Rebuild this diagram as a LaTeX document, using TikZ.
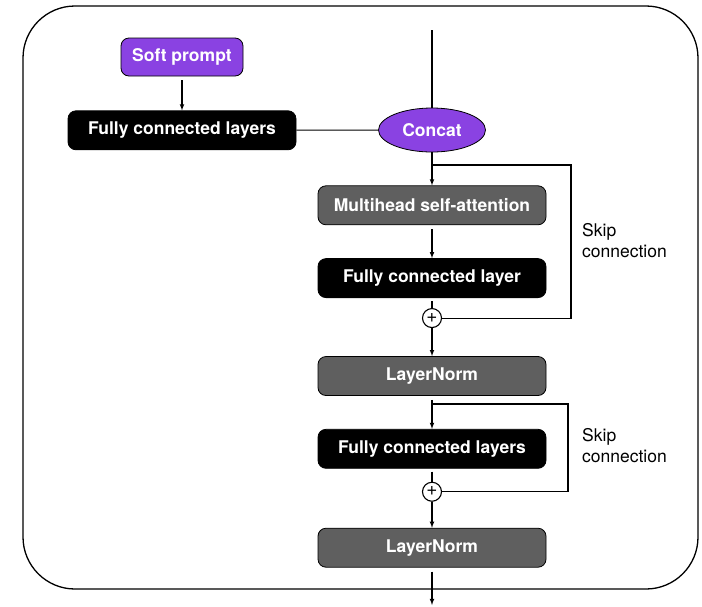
\documentclass[tikz,border=0pt]{standalone}
\usepackage{fontspec}
\setmainfont{TeX Gyre Heros}
\usetikzlibrary{positioning, shapes.geometric}
\definecolor{promptpurple}{RGB}{138,66,226}
\definecolor{blockgray}{RGB}{95,95,95}

\begin{document}
\begin{tikzpicture}
	% style
	[x=1pt, y=-1pt, >=latex,
	box/.style={rectangle, rounded corners=8pt, draw=black, line width=0.8pt, text=white, inner sep=0pt, font=\fontsize{17.5}{20}\selectfont\bfseries},
	prompt/.style={box, fill=promptpurple, minimum width=122pt, minimum height=38pt},
	dense/.style={box, fill=black, minimum width=228pt, minimum height=39pt},
	attn/.style={box, fill=blockgray, minimum width=228pt, minimum height=39pt},
	concat/.style={ellipse, draw=black, line width=0.8pt, fill=promptpurple, text=white, inner sep=0pt, minimum width=107pt, minimum height=44pt, font=\fontsize{17.5}{20}\selectfont\bfseries},
	plus/.style={circle, draw=black, line width=1.1pt, fill=white, inner sep=0pt, minimum size=19pt, font=\fontsize{19}{19}\selectfont},
	note/.style={rectangle, inner sep=0pt, align=left, anchor=west, font=\fontsize{17.5}{21}\selectfont}]

	\useasboundingbox (0,0) rectangle (702,606);
	\draw[rounded corners=52pt, line width=1.3pt] (23,6) rectangle (698,589);

	% prompt branch
	\node [prompt] (soft) at (182,57) {Soft prompt};
	\node [dense, node distance=34pt] (fc_in) [below=of soft] {Fully connected layers};

	% encoder column
	\coordinate (input) at (432,30);
	\node [concat] (concat) at (432,130) {Concat};
	\node [attn, node distance=33pt] (mha) [below=of concat] {Multihead self-attention};
	\node [dense, node distance=33pt] (fc_1) [below=of mha] {Fully connected layer};
	\node [plus, node distance=10pt] (plus_1) [below=of fc_1] {\raisebox{1pt}{+}};
	\node [attn, node distance=28pt] (norm_1) [below=of plus_1] {LayerNorm};
	\node [dense, node distance=33pt] (fc_2) [below=of norm_1] {Fully connected layers};
	\node [plus, node distance=13pt] (plus_2) [below=of fc_2] {\raisebox{1pt}{+}};
	\node [attn, node distance=26pt] (norm_2) [below=of plus_2] {LayerNorm};
	\coordinate (output) at (432,605);

	% skip connections
	\coordinate (split_1) at (432,165);
	\coordinate (skip_1) at (571,165);
	\coordinate (split_2) at (432,404);
	\coordinate (skip_2) at (568,404);
	\node [note] (label_1) at (582,241) {Skip\\connection};
	\node [note] (label_2) at (582,446) {Skip\\connection};

	\path[line width=1.1pt] (input)	edge (concat)
	                (fc_in)		edge (concat)
	                (fc_1)		edge [shorten <=3pt] (plus_1)
	                (fc_2)		edge [shorten <=3pt] (plus_2);
	\path[->,line width=1.1pt] (soft)	edge [shorten <=4pt] (fc_in)
	                (concat)	edge (mha)
	                (mha)		edge [shorten <=4pt] (fc_1)
	                (plus_1)	edge (norm_1)
	                (norm_1)	edge [shorten <=4pt] (fc_2)
	                (plus_2)	edge (norm_2)
	                (norm_2)	edge [shorten <=4pt] (output);
	\draw[line width=1.1pt] (split_1) -- (skip_1) |- (plus_1);
	\draw[line width=1.1pt] (split_2) -- (skip_2) |- (plus_2);
\end{tikzpicture}
\end{document}
